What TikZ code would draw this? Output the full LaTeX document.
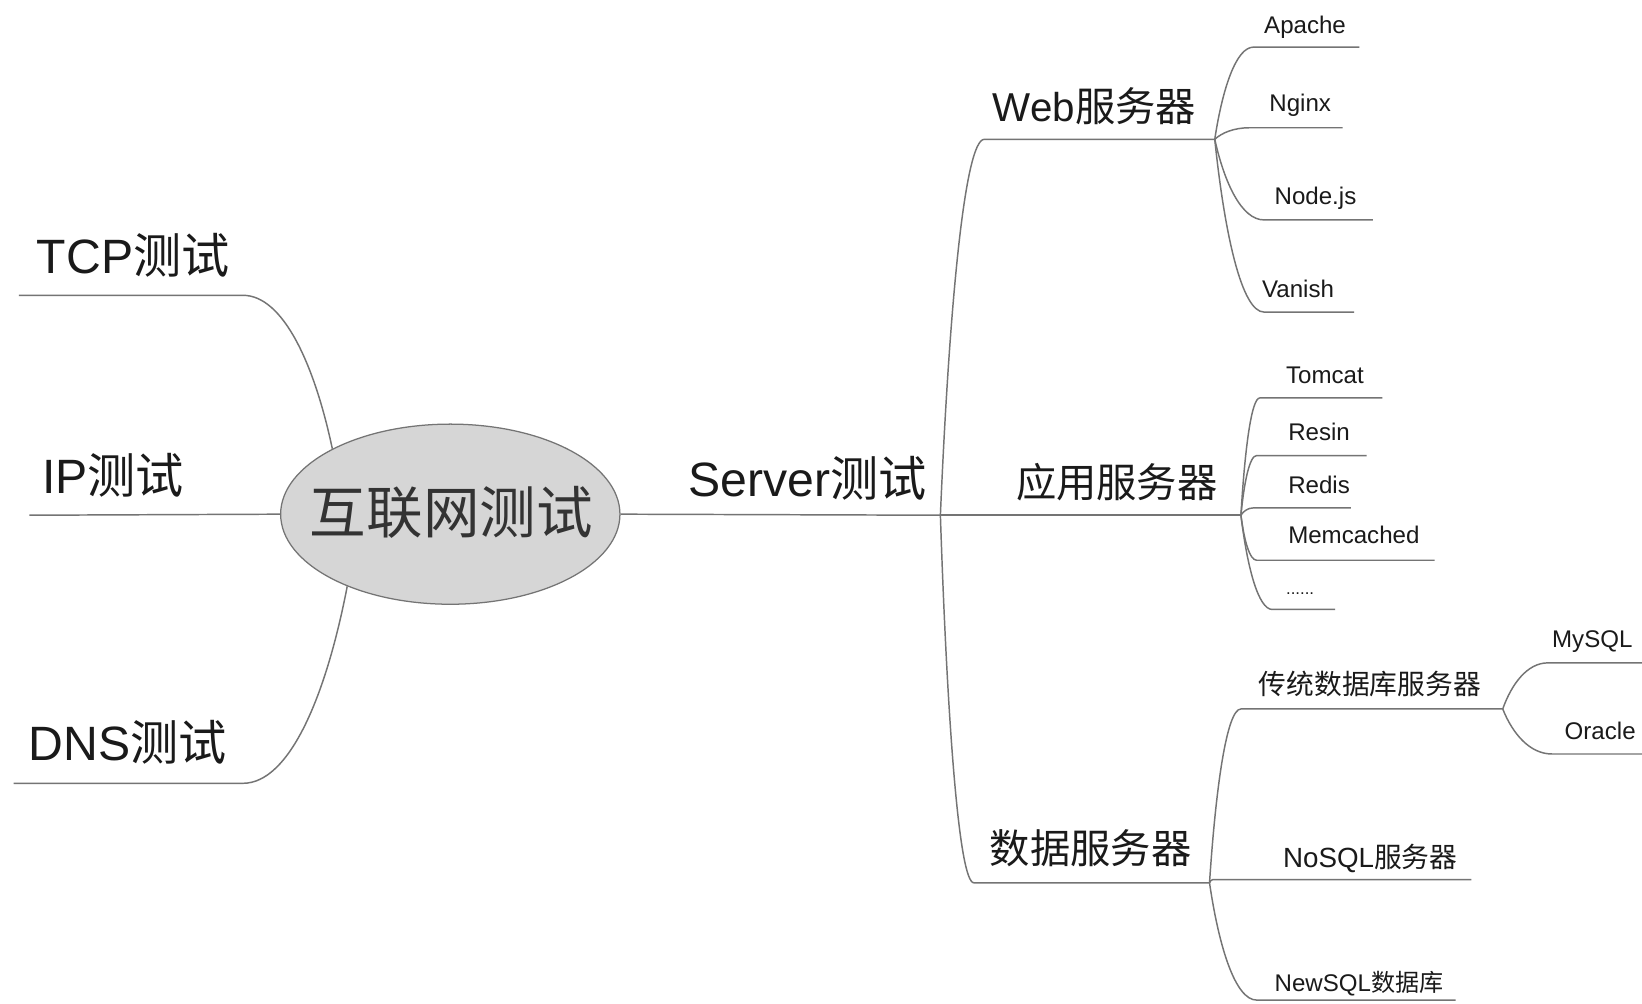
\documentclass[tikz,border=0pt]{standalone}
\usepackage{fontspec}
\setmainfont{Liberation Sans}
\newfontfamily\cj{Noto Sans CJK SC}
\usetikzlibrary{calc,shapes.geometric}
\definecolor{linegray}{HTML}{747474}
\definecolor{rootfill}{HTML}{D6D6D6}
\definecolor{txt}{HTML}{1A1A1A}
\begin{document}
\begin{tikzpicture}[x=1pt,y=-1pt,
  ln/.style={draw=linegray,line width=1.4pt},
  branch/.style={to path={let \p1=(\tikztostart), \p2=(\tikztotarget) in
     .. controls ({\x1+0.2*(\x2-\x1)},{\y1+0.55*(\y2-\y1)}) and ({\x1+0.55*(\x2-\x1)},\y2) .. (\tikztotarget)}},
  big/.style={anchor=base west,inner sep=0pt,text=txt,font=\fontsize{46}{50}\selectfont},
  mid/.style={anchor=base west,inner sep=0pt,text=txt,font=\fontsize{38.5}{42}\selectfont},
  leaf/.style={anchor=base west,inner sep=0pt,text=txt,font=\fontsize{23}{26}\selectfont},
  cjleaf/.style={anchor=base west,inner sep=0pt,text=txt,font=\fontsize{26.5}{29}\selectfont}
]
\useasboundingbox[fill=white] (0,0) rectangle (1568,958);

% root
\node[ellipse,draw=linegray,line width=1.2pt,fill=rootfill,minimum width=324pt,minimum height=172pt,inner sep=0pt] (root) at (430,491) {};
\node[inner sep=0pt,text=black!80,font=\fontsize{54}{58}\selectfont] (rootT) at (431,489) {\cj 互联网测试};

% left branches
\coordinate (tcpL) at (18,282);  \coordinate (tcpR) at (232,282);
\coordinate (ipL) at (28,492);
\coordinate (dnsL) at (13,748);  \coordinate (dnsR) at (232,748);
\node[big] (tcp) at (35,261) {TCP\cj 测试};
\node[big] (ip) at (40,471) {IP\cj 测试};
\node[big] (dns) at (27,726) {DNS\cj 测试};
\draw[ln] (root.151) to[branch] (tcpR) -- (tcpL);
\draw[ln] (root.west) -- (ipL);
\draw[ln] (root.215) to[branch] (dnsR) -- (dnsL);

% server
\coordinate (srvR) at (898,492);
\node[big] (srv) at (657,474) {Server\cj 测试};
\draw[ln] (root.east) -- (srvR);

% second level
\coordinate (webL) at (940,133);  \coordinate (webR) at (1160,133);
\coordinate (appR) at (1185,492);
\coordinate (datL) at (930,843);  \coordinate (datR) at (1155,843);
\node[mid] (web) at (948,116) {Web\cj 服务器};
\node[mid] (app) at (970,475) {\cj 应用服务器};
\node[mid] (dat) at (945,825) {\cj 数据服务器};
\draw[ln] (srvR) to[branch] (webL) -- (webR);
\draw[ln] (srvR) -- (appR);
\draw[ln] (srvR) to[branch] (datL) -- (datR);

% web children
\coordinate (apL) at (1197,45);   \coordinate (apR) at (1298,45);
\coordinate (ngL) at (1193,122);  \coordinate (ngR) at (1282,122);
\coordinate (ndL) at (1207,210);  \coordinate (ndR) at (1311,210);
\coordinate (vaL) at (1207,298);  \coordinate (vaR) at (1293,298);
\node[leaf] (ap) at (1207,32) {Apache};
\node[leaf] (ng) at (1212,106) {Nginx};
\node[leaf] (nd) at (1217,195) {Node.js};
\node[leaf] (va) at (1205,284) {Vanish};
\draw[ln] (webR) to[branch] (apL) -- (apR);
\draw[ln] (webR) to[branch] (ngL) -- (ngR);
\draw[ln] (webR) to[branch] (ndL) -- (ndR);
\draw[ln] (webR) to[branch] (vaL) -- (vaR);

% app children
\coordinate (tcL) at (1203,380);  \coordinate (tcR) at (1320,380);
\coordinate (reL) at (1200,435);  \coordinate (reR) at (1305,435);
\coordinate (rdL) at (1197,485);  \coordinate (rdR) at (1290,485);
\coordinate (meL) at (1200,535);  \coordinate (meR) at (1370,535);
\coordinate (etL) at (1215,582);  \coordinate (etR) at (1275,582);
\node[leaf] (tc) at (1228,366) {Tomcat};
\node[leaf] (re) at (1230,421) {Resin};
\node[leaf] (rd) at (1230,471) {Redis};
\node[leaf] (me) at (1230,519) {Memcached};
\node[leaf,font=\fontsize{16}{18}\selectfont] (et) at (1228,568) {......};
\draw[ln] (appR) to[branch] (tcL) -- (tcR);
\draw[ln] (appR) to[branch] (reL) -- (reR);
\draw[ln] (appR) to[branch] (rdL) -- (rdR);
\draw[ln] (appR) to[branch] (meL) -- (meR);
\draw[ln] (appR) to[branch] (etL) -- (etR);

% data children
\coordinate (trL) at (1185,677);  \coordinate (trR) at (1435,677);
\coordinate (noL) at (1158,840);  \coordinate (noR) at (1405,840);
\coordinate (nwL) at (1200,955);  \coordinate (nwR) at (1390,955);
\node[cjleaf] (tr) at (1202,663) {\cj 传统数据库服务器};
\node[cjleaf] (no) at (1225,828) {NoSQL\cj 服务器};
\node[leaf] (nw) at (1217,947) {NewSQL\cj 数据库};
\draw[ln] (datR) to[branch] (trL) -- (trR);
\draw[ln] (datR) to[branch] (noL) -- (noR);
\draw[ln] (datR) to[branch] (nwL) -- (nwR);

% traditional db children
\coordinate (myL) at (1478,633);  \coordinate (myR) at (1568,633);
\coordinate (orL) at (1482,720);  \coordinate (orR) at (1568,720);
\node[leaf] (my) at (1482,618) {MySQL};
\node[leaf] (or) at (1494,706) {Oracle};
\draw[ln] (trR) to[branch] (myL) -- (myR);
\draw[ln] (trR) to[branch] (orL) -- (orR);
\end{tikzpicture}
\end{document}
